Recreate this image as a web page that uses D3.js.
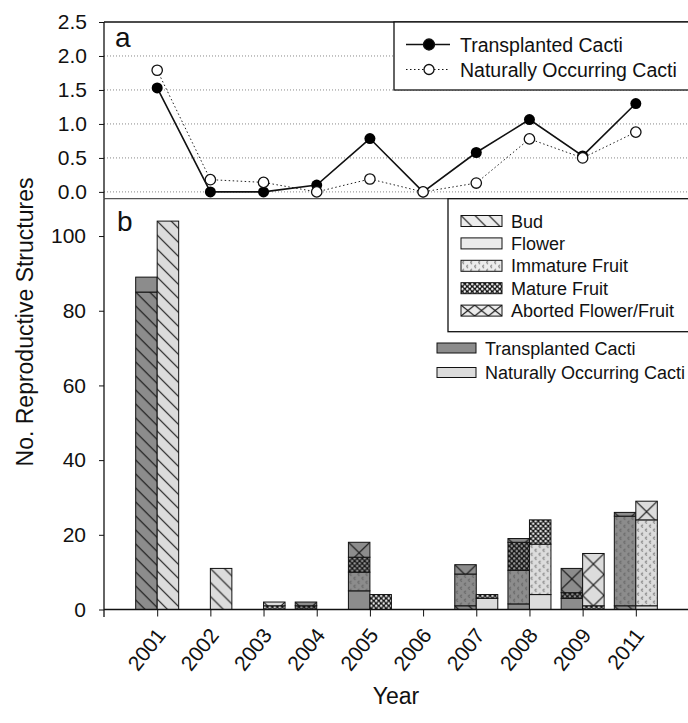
<!DOCTYPE html>
<html><head><meta charset="utf-8">
<script src="https://cdn.jsdelivr.net/npm/d3@7/dist/d3.min.js"></script>
<style>
body{margin:0;background:#fff}
svg text{font-family:"Liberation Sans",Arial,sans-serif;fill:#111}
</style>
</head><body>
<svg id="chart" width="688" height="723"></svg>
<script>
// ---------- DATA ----------
const years = ["2001","2002","2003","2004","2005","2006","2007","2008","2009","2011"];
// panel a: mean reproductive structures per plant
const transplantedMean = [1.53, 0, 0, 0.10, 0.785, 0, 0.58, 1.065, 0.53, 1.30];
const naturalMean      = [1.79, 0.18, 0.14, 0, 0.19, 0, 0.13, 0.78, 0.50, 0.88];
const aTicks = [0, 0.5, 1.0, 1.5, 2.0, 2.5];
// panel b: stacked counts
const categories = ["Bud","Flower","Immature Fruit","Mature Fruit","Aborted Flower/Fruit"];
const catKeys = ["bud","flower","immature","mature","aborted"];
const transplantedBud      = [85, 0, 0, 0, 0, 0, 1,   0,   0,   1];
const transplantedFlower   = [4,  0, 0, 0, 5, 0, 0,   1.5, 3,   0];
const transplantedImmature = [0,  0, 0, 0, 5, 0, 8.5, 9,   0,   24];
const transplantedMature   = [0,  0, 0, 1, 4, 0, 0,   7.5, 1.5, 0];
const transplantedAborted  = [0,  0, 0, 1, 4, 0, 2.5, 1,   6.5, 1];
const naturalBud      = [104, 11, 0, 0, 0, 0, 0, 0,    0,  0];
const naturalFlower   = [0,   0,  0, 0, 0, 0, 3, 4,    0,  1];
const naturalImmature = [0,   0,  0, 0, 0, 0, 0, 13.5, 0,  23];
const naturalMature   = [0,   0,  1, 0, 4, 0, 1, 6.5,  1,  0];
const naturalAborted  = [0,   0,  1, 0, 0, 0, 0, 0,    14, 5];
const bTicks = [0, 20, 40, 60, 80, 100];
const seriesNames = ["Transplanted Cacti","Naturally Occurring Cacti"];

// ---------- SETUP ----------
const svg = d3.select("#chart");
const defs = svg.append("defs");
const L = 104, R = 689;
const x = d3.scalePoint().domain(years).range([L, R]).padding(1);
const yA = d3.scaleLinear().domain([-0.1, 2.5]).range([198.7, 22]);
const yB = d3.scaleLinear().domain([0, 110]).range([609.5, 198.7]);
const bw = 21.5;
const colT = "#8c8c8c", colN = "#dcdcdc";

let pid = 0;
function patternFill(cat, base, x0, y0, w, hX){
  if (cat === "flower") return base;
  const id = "pat" + (pid++);
  const p = defs.append("pattern").attr("id", id).attr("patternUnits","userSpaceOnUse")
    .attr("x", x0).attr("y", y0);
  if (cat === "bud") {
    p.attr("width",14).attr("height",14);
    p.append("rect").attr("width",14).attr("height",14).attr("fill",base);
    p.append("path").attr("d","M0,0L14,14M-3,11L3,17M11,-3L17,3")
      .attr("stroke","#111").attr("stroke-width",1.1).attr("fill","none");
  } else if (cat === "immature") {
    p.attr("width",8).attr("height",8);
    p.append("rect").attr("width",8).attr("height",8).attr("fill",base);
    p.append("path").attr("d","M3.2,1.2a1.1,1.1 0 1 0 0,2M7.2,5.2a1.1,1.1 0 1 0 0,2")
      .attr("stroke","#555").attr("stroke-width",0.8).attr("fill","none");
  } else if (cat === "mature") {
    p.attr("width",5).attr("height",5);
    p.append("rect").attr("width",5).attr("height",5).attr("fill","#151515");
    p.append("circle").attr("cx",1.25).attr("cy",1.25).attr("r",1.2).attr("fill",d3.color(base).brighter(0.3));
    p.append("circle").attr("cx",3.75).attr("cy",3.75).attr("r",1.2).attr("fill",d3.color(base).brighter(0.3));
  } else if (cat === "aborted") {
    const h = hX || 21;
    p.attr("width",w).attr("height",h);
    p.append("rect").attr("width",w).attr("height",h).attr("fill",base);
    p.append("path").attr("d",`M0,0L${w},${h}M${w},0L0,${h}`)
      .attr("stroke","#111").attr("stroke-width",1.1).attr("fill","none");
  }
  return `url(#${id})`;
}

// ---------- PANEL A ----------
const gA = svg.append("g");
gA.selectAll("line.grid").data(aTicks.filter(t => t < 2.5)).join("line")
  .attr("x1", L).attr("x2", R).attr("y1", d => yA(d)).attr("y2", d => yA(d))
  .attr("stroke","#888").attr("stroke-width",1).attr("stroke-dasharray","1,2");
gA.append("line").attr("x1",L).attr("x2",R).attr("y1",yA(2.5)).attr("y2",yA(2.5))
  .attr("stroke","#111").attr("stroke-width",1.3);
const axA = d3.axisLeft(yA).tickValues(aTicks).tickFormat(d3.format(".1f")).tickSize(5).tickSizeOuter(0);
const axAg = gA.append("g").attr("transform",`translate(${L},0)`).call(axA);
axAg.select(".domain").attr("d",`M0,${yA(2.5)}V${yA(-0.1)}`).attr("stroke","#111").attr("stroke-width",1.3);
axAg.selectAll(".tick line").attr("stroke","#111");
axAg.selectAll(".tick text").attr("x",-17).attr("font-size",21).attr("fill","#111")
  .style("font-family",'"Liberation Sans",Arial,sans-serif');

const ptsT = years.map((y,i)=>({year:y, v:transplantedMean[i]}));
const ptsN = years.map((y,i)=>({year:y, v:naturalMean[i]}));
const line = d3.line().x(d=>x(d.year)).y(d=>yA(d.v));
gA.append("path").datum(ptsN).attr("d",line).attr("fill","none")
  .attr("stroke","#222").attr("stroke-width",1).attr("stroke-dasharray","1.5,2.5");
gA.append("path").datum(ptsT).attr("d",line).attr("fill","none")
  .attr("stroke","#111").attr("stroke-width",1.6);
gA.selectAll("circle.t").data(ptsT).join("circle").attr("class","t")
  .attr("cx",d=>x(d.year)).attr("cy",d=>yA(d.v)).attr("r",5.5).attr("fill","#000");
gA.selectAll("circle.n").data(ptsN).join("circle").attr("class","n")
  .attr("cx",d=>x(d.year)).attr("cy",d=>yA(d.v)).attr("r",5.2)
  .attr("fill","#fff").attr("stroke","#111").attr("stroke-width",1.3);

// legend a
const legA = svg.append("g");
legA.append("rect").attr("x",394).attr("y",22).attr("width",300).attr("height",68)
  .attr("fill","#fff").attr("stroke","#111").attr("stroke-width",1.3);
const legARows = [{name:seriesNames[0], y:44.5, filled:true},{name:seriesNames[1], y:69.5, filled:false}];
legARows.forEach(r=>{
  legA.append("line").attr("x1",406).attr("x2",450).attr("y1",r.y).attr("y2",r.y)
    .attr("stroke","#111").attr("stroke-width",r.filled?1.6:1).attr("stroke-dasharray",r.filled?null:"1.5,2.5");
  legA.append("circle").attr("cx",429).attr("cy",r.y).attr("r",r.filled?5.5:5)
    .attr("fill",r.filled?"#000":"#fff").attr("stroke","#111").attr("stroke-width",1.3);
  legA.append("text").attr("x",460).attr("y",r.y+7).attr("font-size",19.5).text(r.name);
});
svg.append("text").attr("x",115).attr("y",47).attr("font-size",28).text("a");

// separator
svg.append("line").attr("x1",L).attr("x2",R).attr("y1",198.7).attr("y2",198.7)
  .attr("stroke","#555").attr("stroke-width",1.2);

// ---------- PANEL B ----------
const gB = svg.append("g");
const seriesB = [
  {name:seriesNames[0], color:colT, off:-1,
   cols:[transplantedBud,transplantedFlower,transplantedImmature,transplantedMature,transplantedAborted]},
  {name:seriesNames[1], color:colN, off:0,
   cols:[naturalBud,naturalFlower,naturalImmature,naturalMature,naturalAborted]}
];
seriesB.forEach(s=>{
  const rows = years.map((y,i)=>{
    const o = {year:y};
    catKeys.forEach((k,j)=>o[k]=s.cols[j][i]);
    return o;
  });
  const stacked = d3.stack().keys(catKeys)(rows);
  stacked.forEach(layer=>{
    layer.forEach(d=>{
      if (d[1]-d[0] <= 0) return;
      const bx = x(d.data.year) + s.off*bw;
      const top = yB(d[1]);
      gB.append("rect").attr("x",bx).attr("y",top).attr("width",bw)
        .attr("height",yB(d[0])-top)
        .attr("fill",patternFill(layer.key, s.color, bx, top, bw))
        .attr("stroke","#111").attr("stroke-width",1);
    });
  });
});

const axB = d3.axisLeft(yB).tickValues(bTicks).tickSize(5).tickSizeOuter(0);
const axBg = gB.append("g").attr("transform",`translate(${L},0)`).call(axB);
axBg.select(".domain").attr("d",`M0,198.7V617`).attr("stroke","#111").attr("stroke-width",1.3);
axBg.selectAll(".tick line").attr("stroke","#111");
axBg.selectAll(".tick text").attr("x",-18).attr("font-size",21).attr("fill","#111")
  .style("font-family",'"Liberation Sans",Arial,sans-serif');

const axX = d3.axisBottom(x).tickSize(7).tickSizeOuter(0);
const axXg = gB.append("g").attr("transform",`translate(0,${yB(0)})`).call(axX);
axXg.select(".domain").attr("d",`M${L},0H${R}`).attr("stroke","#111").attr("stroke-width",1.3);
axXg.selectAll(".tick line").attr("stroke","#111");
axXg.selectAll(".tick text").attr("font-size",21).attr("fill","#111")
  .style("font-family",'"Liberation Sans",Arial,sans-serif')
  .attr("text-anchor","end").attr("dy",null).attr("y",0)
  .attr("transform","translate(9,26) rotate(-52)");

svg.append("text").attr("x",117).attr("y",231).attr("font-size",28).text("b");

// legend b (categories)
const legB = svg.append("g");
legB.append("rect").attr("x",448).attr("y",198.7).attr("width",246).attr("height",133)
  .attr("fill","#fff").attr("stroke","#111").attr("stroke-width",1.3);
const rowYs = [221, 243.4, 265.8, 288.2, 310.6];
categories.forEach((c,i)=>{
  const sx = 461, sw = 41, sh = 11, sy = rowYs[i]-sh/2;
  legB.append("rect").attr("x",sx).attr("y",sy).attr("width",sw).attr("height",sh)
    .attr("fill",patternFill(catKeys[i], "#ececec", sx, sy, 13.67, 11))
    .attr("stroke","#111").attr("stroke-width",1);
  legB.append("text").attr("x",511).attr("y",rowYs[i]+6.5).attr("font-size",18).text(c);
});
// legend b (series)
const serRows = [{name:seriesNames[0], color:colT, y:348},{name:seriesNames[1], color:colN, y:372.5}];
serRows.forEach(r=>{
  legB.append("rect").attr("x",437).attr("y",r.y-5).attr("width",39).attr("height",10)
    .attr("fill",r.color).attr("stroke","#111").attr("stroke-width",1);
  legB.append("text").attr("x",485).attr("y",r.y+6.5).attr("font-size",18).text(r.name);
});

// axis titles
svg.append("text").attr("transform","translate(33,322) rotate(-90)").attr("text-anchor","middle")
  .attr("font-size",23).text("No. Reproductive Structures");
svg.append("text").attr("x",396).attr("y",704).attr("text-anchor","middle")
  .attr("font-size",23).text("Year");
</script>
</body></html>
